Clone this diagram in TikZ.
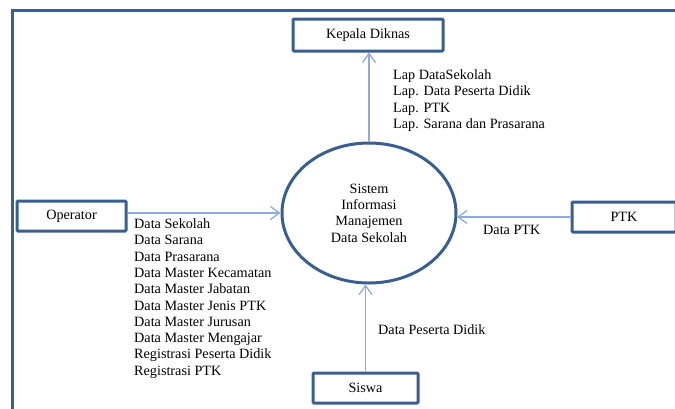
\documentclass[tikz,border=0pt]{standalone}
\usepackage{fontspec}
\setmainfont{Liberation Serif}
\usetikzlibrary{arrows.meta,shapes.geometric}
\definecolor{frameblue}{HTML}{3A5F8F}
\definecolor{arrowblue}{HTML}{8FAADC}
\begin{document}
\begin{tikzpicture}[x=1pt,y=-1pt,
  txt/.style={font=\fontsize{14.2}{16.3}\selectfont},
  entity/.style={draw=frameblue,line width=3pt,rounded corners=1pt,fill=white,inner sep=0pt,txt,text=black},
  flow/.style={draw=arrowblue,line width=1.5pt,-{Straight Barb[length=9pt,width=13pt,line width=1.3pt]}},
  lbl/.style={txt,align=left,anchor=west,inner sep=0pt}]
\useasboundingbox (0,0) rectangle (675,408);
% outer frame
\draw[frameblue,line width=3pt] (12,412) -- (12,10) -- (680,10);
% central process
\node[ellipse,draw=frameblue,line width=3pt,minimum width=174pt,minimum height=140pt,inner sep=0pt,txt,align=center] (sim) at (369,213) {Sistem\\Informasi\\Manajemen\\Data Sekolah};
% entities
\node[entity,minimum width=150pt,minimum height=32pt] (kepala) at (368,35) {Kepala Diknas};
\node[entity,minimum width=109pt,minimum height=30pt] (operator) at (71.5,216) {Operator};
\node[entity,minimum width=104pt,minimum height=30pt] (ptk) at (624,217) {PTK};
\node[entity,minimum width=105pt,minimum height=30pt] (siswa) at (365.5,388) {Siswa};
% flows
\draw[flow] (sim.north) -- (sim.north |- kepala.south);
\draw[flow] (operator.east |- sim.west) -- (sim.west);
\draw[flow] (ptk.west) -- ([xshift=-0.5pt]sim.east |- ptk.west);
\draw[flow] (siswa.north) -- (siswa.north |- sim.south);
% labels
\node[lbl] (lkepala) at (393,100.5) {Lap DataSekolah\\Lap. Data Peserta Didik\\Lap. PTK\\Lap. Sarana dan Prasarana};
\node[lbl] (loperator) at (134,298.5) {Data Sekolah\\Data Sarana\\Data Prasarana\\Data Master Kecamatan\\Data Master Jabatan\\Data Master Jenis PTK\\Data Master Jurusan\\Data Master Mengajar\\Registrasi Peserta Didik\\Registrasi PTK};
\node[lbl] (lptk) at (483,230) {Data PTK};
\node[lbl] (lsiswa) at (378,330) {Data Peserta Didik};
\end{tikzpicture}
\end{document}
